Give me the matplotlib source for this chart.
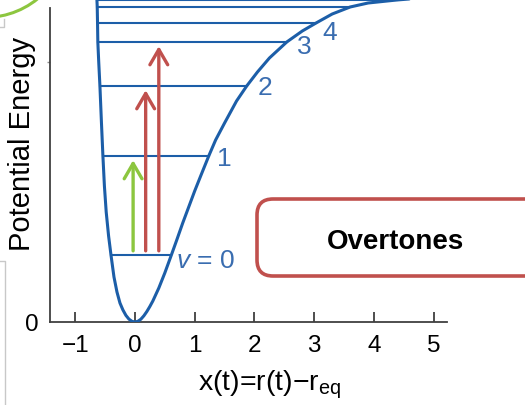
import matplotlib
matplotlib.use("Agg")
import matplotlib.pyplot as plt
from matplotlib.patches import FancyBboxPatch, Ellipse

plt.rcParams["font.family"] = ["Liberation Sans", "DejaVu Sans"]
plt.rcParams["mathtext.fontset"] = "custom"
plt.rcParams["mathtext.rm"] = "Liberation Sans"
plt.rcParams["mathtext.it"] = "Liberation Sans:italic"

# potential energy curve, displacement vs energy (arbitrary units)
curve_x = [-0.645, -0.635, -0.630, -0.625, -0.620, -0.605, -0.585, -0.560, -0.535,
           -0.510, -0.480, -0.440, -0.400, -0.350, -0.300, -0.250, -0.200, -0.150,
           -0.100, -0.050, 0.0, 0.05, 0.10, 0.15, 0.20, 0.25, 0.30, 0.40, 0.50,
           0.61, 0.70, 0.80, 0.90, 1.00, 1.10, 1.235, 1.35, 1.50, 1.70, 1.87,
           2.05, 2.25, 2.54, 2.80, 3.03, 3.30, 3.60, 3.90, 4.38, 4.90, 5.30]
curve_e = [3.30, 3.22, 3.15, 2.99, 2.80, 2.60, 2.36, 2.00, 1.66,
           1.36, 1.10, 0.86, 0.67, 0.45, 0.30, 0.19, 0.12, 0.066,
           0.029, 0.007, 0.0, 0.007, 0.028, 0.062, 0.105, 0.155, 0.21, 0.34, 0.49,
           0.67, 0.82, 0.99, 1.15, 1.31, 1.46, 1.66, 1.82, 1.99, 2.21, 2.36,
           2.50, 2.64, 2.80, 2.91, 2.99, 3.08, 3.15, 3.19, 3.22, 3.245, 3.26]

# vibrational levels and their turning points
levels = [0.67, 1.66, 2.36, 2.80, 2.99, 3.15, 3.22]
left_turn = [-0.40, -0.535, -0.585, -0.62, -0.625, -0.63, -0.635]
right_turn = [0.61, 1.235, 1.87, 2.54, 3.03, 3.60, 4.38]
level_labels = ["$v$ = 0", "1", "2", "3", "4"]
label_x = [0.69, 1.37, 2.06, 2.71, 3.14]
label_e = [0.62, 1.64, 2.35, 2.76, 2.90]

# transitions from v=0: fundamental and overtones
arrow_x = [-0.03, 0.18, 0.40]
arrow_to = [1, 2, 3]
arrow_colors = ["#8cc63f", "#c0504d", "#c0504d"]

x_ticks = [-1, 0, 1, 2, 3, 4, 5]

blue = "#1c5ea8"
label_blue = "#3a6db0"

fig = plt.figure(figsize=(5.25, 4.06), dpi=100)
ax = fig.add_axes([50 / 525, 83 / 406, 397 / 525, 323 / 406])
ax.set_xlim(-1.42, 5.22)
ax.set_ylim(0, 3.23)

ax.plot(curve_x, curve_e, color=blue, lw=2.2, solid_joinstyle="round",
        solid_capstyle="round", zorder=3)
for e, xl, xr in zip(levels, left_turn, right_turn):
    ax.plot([xl, xr], [e, e], color=blue, lw=1.5, zorder=2)

for txt, lx, le in zip(level_labels, label_x, label_e):
    ax.text(lx, le, txt, color=label_blue, fontsize=19, ha="left", va="center")

for x, to, c in zip(arrow_x, arrow_to, arrow_colors):
    ax.annotate("", xy=(x, levels[to]), xytext=(x, levels[0]),
                arrowprops=dict(arrowstyle="->,head_length=0.55,head_width=0.32",
                                lw=2.4, color=c, shrinkA=3, shrinkB=3,
                                mutation_scale=20), zorder=4)

for side in ["top", "right"]:
    ax.spines[side].set_visible(False)
for side in ["left", "bottom"]:
    ax.spines[side].set_color("#404040")
    ax.spines[side].set_linewidth(1.3)
ax.spines["left"].set_bounds(0, 3.14)

ax.set_xticks(x_ticks)
ax.set_xticklabels(["\u22121" if t < 0 else str(t) for t in x_ticks])
ax.tick_params(axis="x", direction="in", length=7, width=1.3, color="#404040",
               labelsize=17.5, pad=9)
ax.set_yticks([0])
ax.set_yticklabels(["0"])
ax.set_yticks([2.60], minor=True)
ax.tick_params(axis="y", which="major", length=0, labelsize=17.5, pad=8)
ax.tick_params(axis="y", which="minor", length=2, width=1, color="#909090")

fig.text(22 / 525, 1 - 144 / 406, "Potential Energy", rotation=90,
         fontsize=21, ha="center", va="center")
fig.text(270 / 525, 1 - 385 / 406, "x(t)=r(t)\u2212r$_{\\rm eq}$",
         fontsize=20.5, ha="center", va="center")

# callout box on the right, running off the right edge
box = FancyBboxPatch((2.57, 1.29), 3.2, 0.77,
                     boxstyle="round,pad=0,rounding_size=0.16",
                     transform=fig.dpi_scale_trans, facecolor="white",
                     edgecolor="#c0504d", linewidth=2.6, zorder=5)
fig.add_artist(box)
fig.text(396 / 525, 1 - 242 / 406, "Overtones", fontsize=20, fontweight="bold",
         ha="center", va="center", zorder=6)

# slide decorations at the left edge
fig.add_artist(Ellipse((-15 / 525, 1 + 65 / 406), 167 / 525, 167 / 406,
                       transform=fig.transFigure, fill=False,
                       edgecolor="#8dc63f", linewidth=2.2))
fig.add_artist(plt.Line2D([0, 5 / 525, 5 / 525], [1 - 262 / 406, 1 - 262 / 406, 0],
                          transform=fig.transFigure, color="#c8c8c8", lw=1))
fig.add_artist(plt.Line2D([0, 4 / 525, 4 / 525], [1 - 28 / 406, 1 - 28 / 406, 1 - 20 / 406],
                          transform=fig.transFigure, color="#c8c8c8", lw=1))

fig.savefig("out.png", dpi=100)
